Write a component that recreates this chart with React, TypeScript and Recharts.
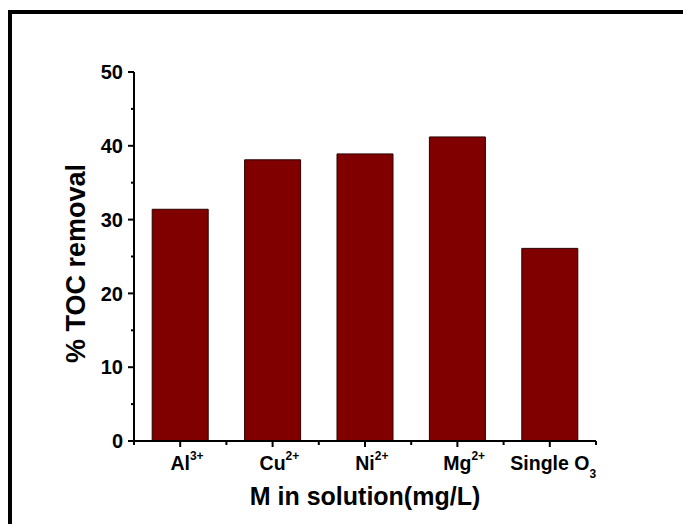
import React from 'react';
import { BarChart, Bar, XAxis, YAxis } from 'recharts';

const categories = ['Al', 'Cu', 'Ni', 'Mg', 'Single O'];
const superscripts = ['3+', '2+', '2+', '2+', ''];
const subscripts = ['', '', '', '', '3'];
const tocRemoval = [31.4, 38.1, 38.9, 41.2, 26.1];
const yTicks = [0, 5, 10, 15, 20, 25, 30, 35, 40, 45, 50];
const yMajorTicks = [0, 10, 20, 30, 40, 50];

const data = categories.map((c, i) => ({
  name: c,
  sup: superscripts[i],
  sub: subscripts[i],
  value: tocRemoval[i],
}));

const W = 683;
const H = 524;
const LEFT = 134;
const RIGHT = 87;
const TOP = 72;
const XAXIS_H = 83;
const PLOT_W = W - LEFT - RIGHT;
const BAND = PLOT_W / data.length;
const FONT = '"Liberation Sans", Arial, Helvetica, sans-serif';

const YTick = (props: any) => {
  const { x, y, payload } = props;
  const major = yMajorTicks.includes(payload.value);
  return (
    <g>
      <line x1={x} y1={y} x2={x - (major ? 6 : 3)} y2={y} stroke="#000" strokeWidth={2} />
      {major && (
        <text x={x - 11} y={y} dy="0.36em" textAnchor="end" fontFamily={FONT} fontWeight="bold" fontSize={20} fill="#000">
          {payload.value}
        </text>
      )}
    </g>
  );
};

const XTick = (props: any) => {
  const { x, y, index } = props;
  const d = data[index];
  if (!d) return null;
  const last = index === data.length - 1;
  const extra = d.sup ? d.sup.length * 6.8 : d.sub ? d.sub.length * 6.8 : 0;
  return (
    <g>
      <line x1={x} y1={y} x2={x} y2={y + 6} stroke="#000" strokeWidth={2} />
      <line x1={x - BAND / 2} y1={y} x2={x - BAND / 2} y2={y + 4} stroke="#000" strokeWidth={2} />
      {last && <line x1={x + BAND / 2} y1={y} x2={x + BAND / 2} y2={y + 4} stroke="#000" strokeWidth={2} />}
      <text x={x + extra / 2} y={y + 29} textAnchor="middle" fontFamily={FONT} fontWeight="bold" fontSize={19.5} fill="#000">
        <tspan>{d.name}</tspan>
        {d.sup && (
          <tspan fontSize={12} dy={-10}>
            {d.sup}
          </tspan>
        )}
        {d.sub && (
          <tspan fontSize={12} dy={8}>
            {d.sub}
          </tspan>
        )}
      </text>
    </g>
  );
};

const XTitle = (props: any) => {
  const vb = props.viewBox;
  return (
    <text x={vb.x + vb.width / 2} y={505} textAnchor="middle" fontFamily={FONT} fontWeight="bold" fontSize={25} fill="#000">
      M in solution(mg/L)
    </text>
  );
};

const YTitle = (props: any) => {
  const vb = props.viewBox;
  const cy = vb.y + vb.height / 2 + 7;
  return (
    <text x={85} y={cy} transform={`rotate(-90, 85, ${cy})`} textAnchor="middle" fontFamily={FONT} fontWeight="bold" fontSize={27} fill="#000">
      % TOC removal
    </text>
  );
};

export default function App() {
  return (
    <div style={{ position: 'fixed', left: 0, top: 0, width: W, height: H, overflow: 'hidden', background: '#fff' }}>
      <div
        style={{
          position: 'absolute',
          left: 8,
          top: 10,
          width: W + 20,
          height: H + 20,
          borderTop: '4px solid #000',
          borderLeft: '4px solid #000',
          boxSizing: 'border-box',
        }}
      />
      <div style={{ position: 'absolute', left: 0, top: 0 }}>
        <BarChart
          width={W}
          height={H}
          data={data}
          margin={{ top: TOP, right: RIGHT, left: 0, bottom: 0 }}
          barCategoryGap="19.7%"
        >
          <XAxis
            dataKey="name"
            height={XAXIS_H}
            axisLine={{ stroke: '#000', strokeWidth: 2 }}
            tickLine={false}
            tickSize={0}
            tickMargin={0}
            tick={<XTick />}
            interval={0}
            label={<XTitle />}
          />
          <YAxis
            width={LEFT}
            domain={[0, 50]}
            ticks={yTicks}
            interval={0}
            axisLine={{ stroke: '#000', strokeWidth: 2 }}
            tickLine={false}
            tickSize={0}
            tickMargin={0}
            tick={<YTick />}
            label={<YTitle />}
          />
          <Bar dataKey="value" fill="#800000" stroke="#2a0000" strokeWidth={1} isAnimationActive={false} />
        </BarChart>
      </div>
    </div>
  );
}
